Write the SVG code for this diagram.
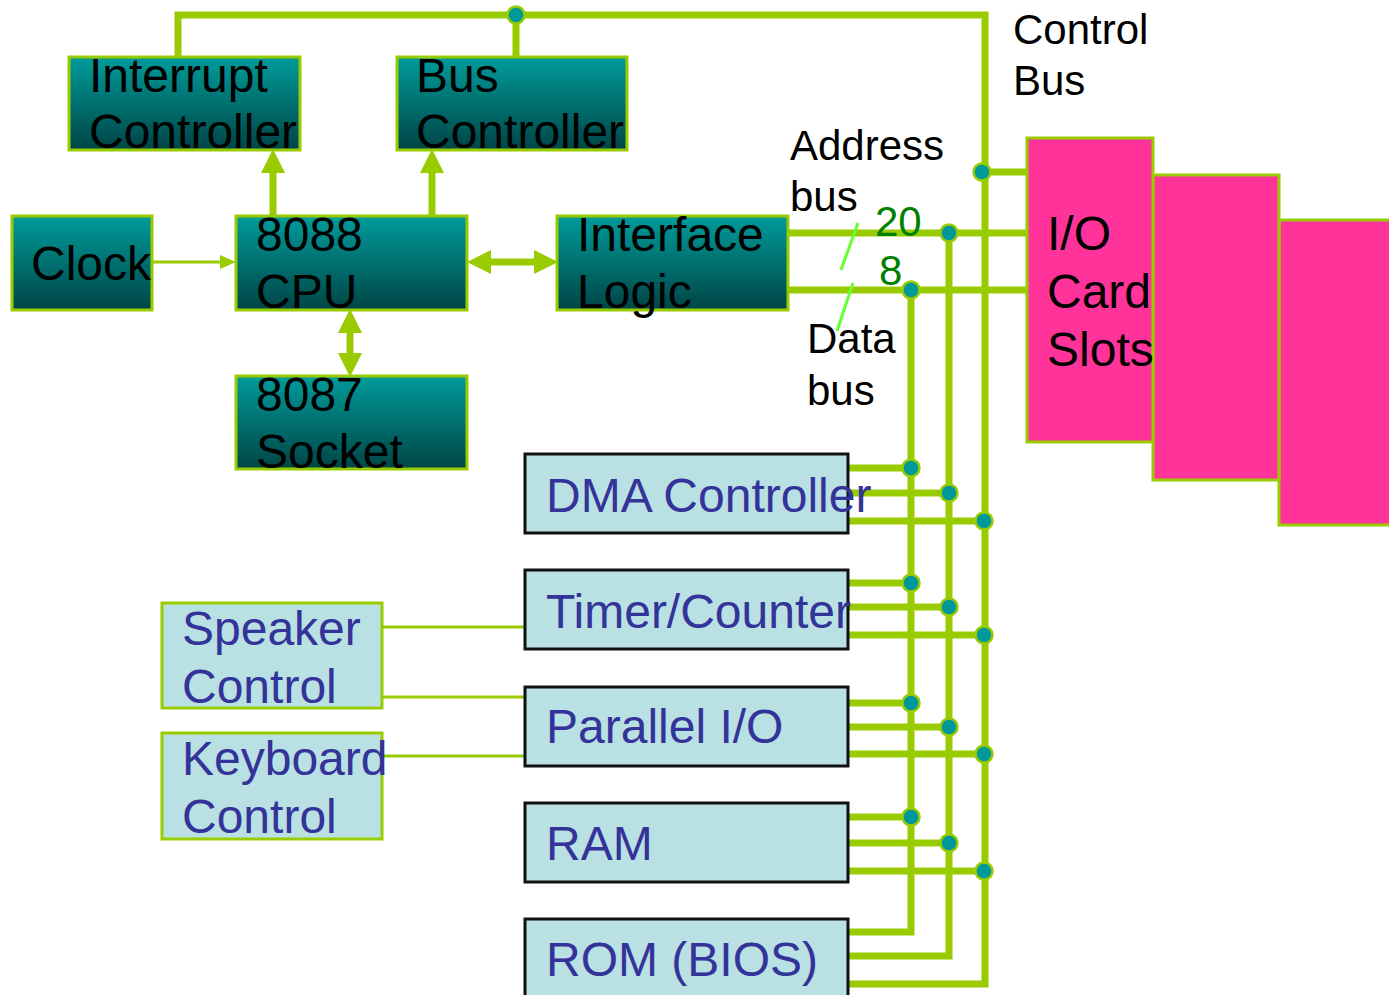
<svg xmlns="http://www.w3.org/2000/svg" width="1389" height="995" viewBox="0 0 1389 995">
  <defs>
    <linearGradient id="teal" x1="0" y1="0" x2="0" y2="1">
      <stop offset="0" stop-color="#009b9b"/>
      <stop offset="1" stop-color="#004545"/>
    </linearGradient>
    <marker id="head" viewBox="0 0 24 24" refX="0" refY="12" markerWidth="24" markerHeight="24" markerUnits="userSpaceOnUse" orient="auto-start-reverse">
      <path d="M0,0 L24,12 L0,24 Z" fill="#99cc00"/>
    </marker>
    <marker id="smallhead" viewBox="0 0 16 14" refX="0" refY="7" markerWidth="16" markerHeight="14" markerUnits="userSpaceOnUse" orient="auto">
      <path d="M0,0 L16,7 L0,14 Z" fill="#99cc00"/>
    </marker>
  </defs>
  <style>
    .chip rect { fill: url(#teal); stroke: #99cc00; stroke-width: 3; }
    .chip text { font-family: "Liberation Sans", Arial, sans-serif; font-size: 48px; fill: #000; }
    .dev rect { fill: #b9e0e3; stroke: #111; stroke-width: 3; }
    .dev text, .aux text { font-family: "Liberation Sans", Arial, sans-serif; font-size: 48px; fill: #333399; }
    .aux rect { fill: #b9e0e3; stroke: #99cc00; stroke-width: 3; }
    .slot rect { fill: #ff3399; stroke: #99cc00; stroke-width: 3; }
    .slot text { font-family: "Liberation Sans", Arial, sans-serif; font-size: 48px; fill: #000; }
    .lbl { font-family: "Liberation Sans", Arial, sans-serif; font-size: 42px; fill: #000; }
    .cnt { font-family: "Liberation Sans", Arial, sans-serif; font-size: 42px; fill: #008000; }
    .bus { fill: none; stroke: #99cc00; stroke-width: 7; stroke-linejoin: miter; }
    .thin { fill: none; stroke: #99cc00; stroke-width: 3; }
    .tick { stroke: #66ff33; stroke-width: 3; }
    .dot { fill: #009999; stroke: #99cc00; stroke-width: 2.5; }
  </style>

  <g id="connectors">
    <!-- control bus: interrupt controller over the top and down the right side -->
    <path class="bus" d="M178,56 V15 H985 V984 H848"/>
    <path class="bus" d="M516,56 V15"/>
    <path class="bus" d="M985,172 H1027"/>
    <!-- address bus -->
    <path class="bus" d="M788,233 H1027"/>
    <path class="bus" d="M949,233 V956 H848"/>
    <!-- data bus -->
    <path class="bus" d="M788,290 H1027"/>
    <path class="bus" d="M911,290 V932 H848"/>

    <!-- device taps: data, address, control -->
    <path class="bus" d="M848,468 H911 M848,493 H949 M848,521 H985"/>
    <path class="bus" d="M848,583 H911 M848,607 H949 M848,635 H985"/>
    <path class="bus" d="M848,703 H911 M848,727 H949 M848,754 H985"/>
    <path class="bus" d="M848,817 H911 M848,843 H949 M848,871 H985"/>

    <!-- CPU links -->
    <path class="bus" d="M273,216 V173" marker-end="url(#head)"/>
    <path class="bus" d="M432,216 V173" marker-end="url(#head)"/>
    <path class="bus" d="M491,262 H534" marker-start="url(#head)" marker-end="url(#head)"/>
    <path class="bus" d="M350,333 V353" marker-start="url(#head)" marker-end="url(#head)"/>
    <path class="thin" d="M152,262 H220" marker-end="url(#smallhead)"/>

    <!-- peripheral control lines -->
    <path class="thin" d="M382,627 H525 M382,697 H525 M382,756 H525"/>

    <!-- bus width ticks -->
    <line class="tick" x1="858" y1="223" x2="841" y2="270"/>
    <line class="tick" x1="853" y1="283" x2="837" y2="331"/>

    <!-- junctions -->
    <circle class="dot" cx="516" cy="15" r="8.5"/>
    <circle class="dot" cx="982" cy="172" r="8.5"/>
    <circle class="dot" cx="949" cy="233" r="8.5"/>
    <circle class="dot" cx="911" cy="290" r="8.5"/>
    <circle class="dot" cx="911" cy="468" r="8.5"/>
    <circle class="dot" cx="949" cy="493" r="8.5"/>
    <circle class="dot" cx="984" cy="521" r="8.5"/>
    <circle class="dot" cx="911" cy="583" r="8.5"/>
    <circle class="dot" cx="949" cy="607" r="8.5"/>
    <circle class="dot" cx="984" cy="635" r="8.5"/>
    <circle class="dot" cx="911" cy="703" r="8.5"/>
    <circle class="dot" cx="949" cy="727" r="8.5"/>
    <circle class="dot" cx="984" cy="754" r="8.5"/>
    <circle class="dot" cx="911" cy="817" r="8.5"/>
    <circle class="dot" cx="949" cy="843" r="8.5"/>
    <circle class="dot" cx="984" cy="871" r="8.5"/>
  </g>

  <!-- bus labels -->
  <g id="labels">
    <text class="lbl" x="1013" y="44">Control</text>
    <text class="lbl" x="1013" y="95">Bus</text>
    <text class="lbl" x="790" y="160">Address</text>
    <text class="lbl" x="790" y="211">bus</text>
    <text class="lbl" x="807" y="353">Data</text>
    <text class="lbl" x="807" y="405">bus</text>
    <text class="cnt" x="875" y="236">20</text>
    <text class="cnt" x="879" y="285">8</text>
  </g>

  <g id="interrupt-controller" class="chip">
    <rect x="69" y="57" width="231" height="93"/>
    <text x="89" y="92">Interrupt</text>
    <text x="89" y="148">Controller</text>
  </g>
  <g id="bus-controller" class="chip">
    <rect x="397" y="57" width="230" height="93"/>
    <text x="416" y="92">Bus</text>
    <text x="416" y="148">Controller</text>
  </g>
  <g id="clock" class="chip">
    <rect x="12" y="216" width="140" height="94"/>
    <text x="31" y="280">Clock</text>
  </g>
  <g id="cpu" class="chip">
    <rect x="236" y="216" width="231" height="94"/>
    <text x="256" y="251">8088</text>
    <text x="256" y="308">CPU</text>
  </g>
  <g id="interface-logic" class="chip">
    <rect x="557" y="216" width="231" height="94"/>
    <text x="577" y="251">Interface</text>
    <text x="577" y="308">Logic</text>
  </g>
  <g id="fpu-socket" class="chip">
    <rect x="236" y="376" width="231" height="93"/>
    <text x="256" y="411">8087</text>
    <text x="256" y="468">Socket</text>
  </g>

  <g id="io-slots" class="slot">
    <rect x="1279" y="220" width="115" height="305"/>
    <rect x="1153" y="175" width="126" height="305"/>
    <rect x="1027" y="138" width="126" height="304"/>
    <text x="1047" y="250">I/O</text>
    <text x="1047" y="308">Card</text>
    <text x="1047" y="366">Slots</text>
  </g>

  <g id="dma" class="dev">
    <rect x="525" y="454" width="323" height="79"/>
    <text x="546" y="512">DMA Controller</text>
  </g>
  <g id="timer" class="dev">
    <rect x="525" y="570" width="323" height="79"/>
    <text x="546" y="628">Timer/Counter</text>
  </g>
  <g id="parallel-io" class="dev">
    <rect x="525" y="687" width="323" height="79"/>
    <text x="546" y="743">Parallel I/O</text>
  </g>
  <g id="ram" class="dev">
    <rect x="525" y="803" width="323" height="79"/>
    <text x="546" y="860">RAM</text>
  </g>
  <g id="rom" class="dev">
    <rect x="525" y="919" width="323" height="90"/>
    <text x="546" y="976">ROM (BIOS)</text>
  </g>

  <g id="speaker-control" class="aux">
    <rect x="162" y="603" width="220" height="105"/>
    <text x="182" y="645">Speaker</text>
    <text x="182" y="703">Control</text>
  </g>
  <g id="keyboard-control" class="aux">
    <rect x="162" y="733" width="220" height="106"/>
    <text x="182" y="775">Keyboard</text>
    <text x="182" y="833">Control</text>
  </g>
</svg>
